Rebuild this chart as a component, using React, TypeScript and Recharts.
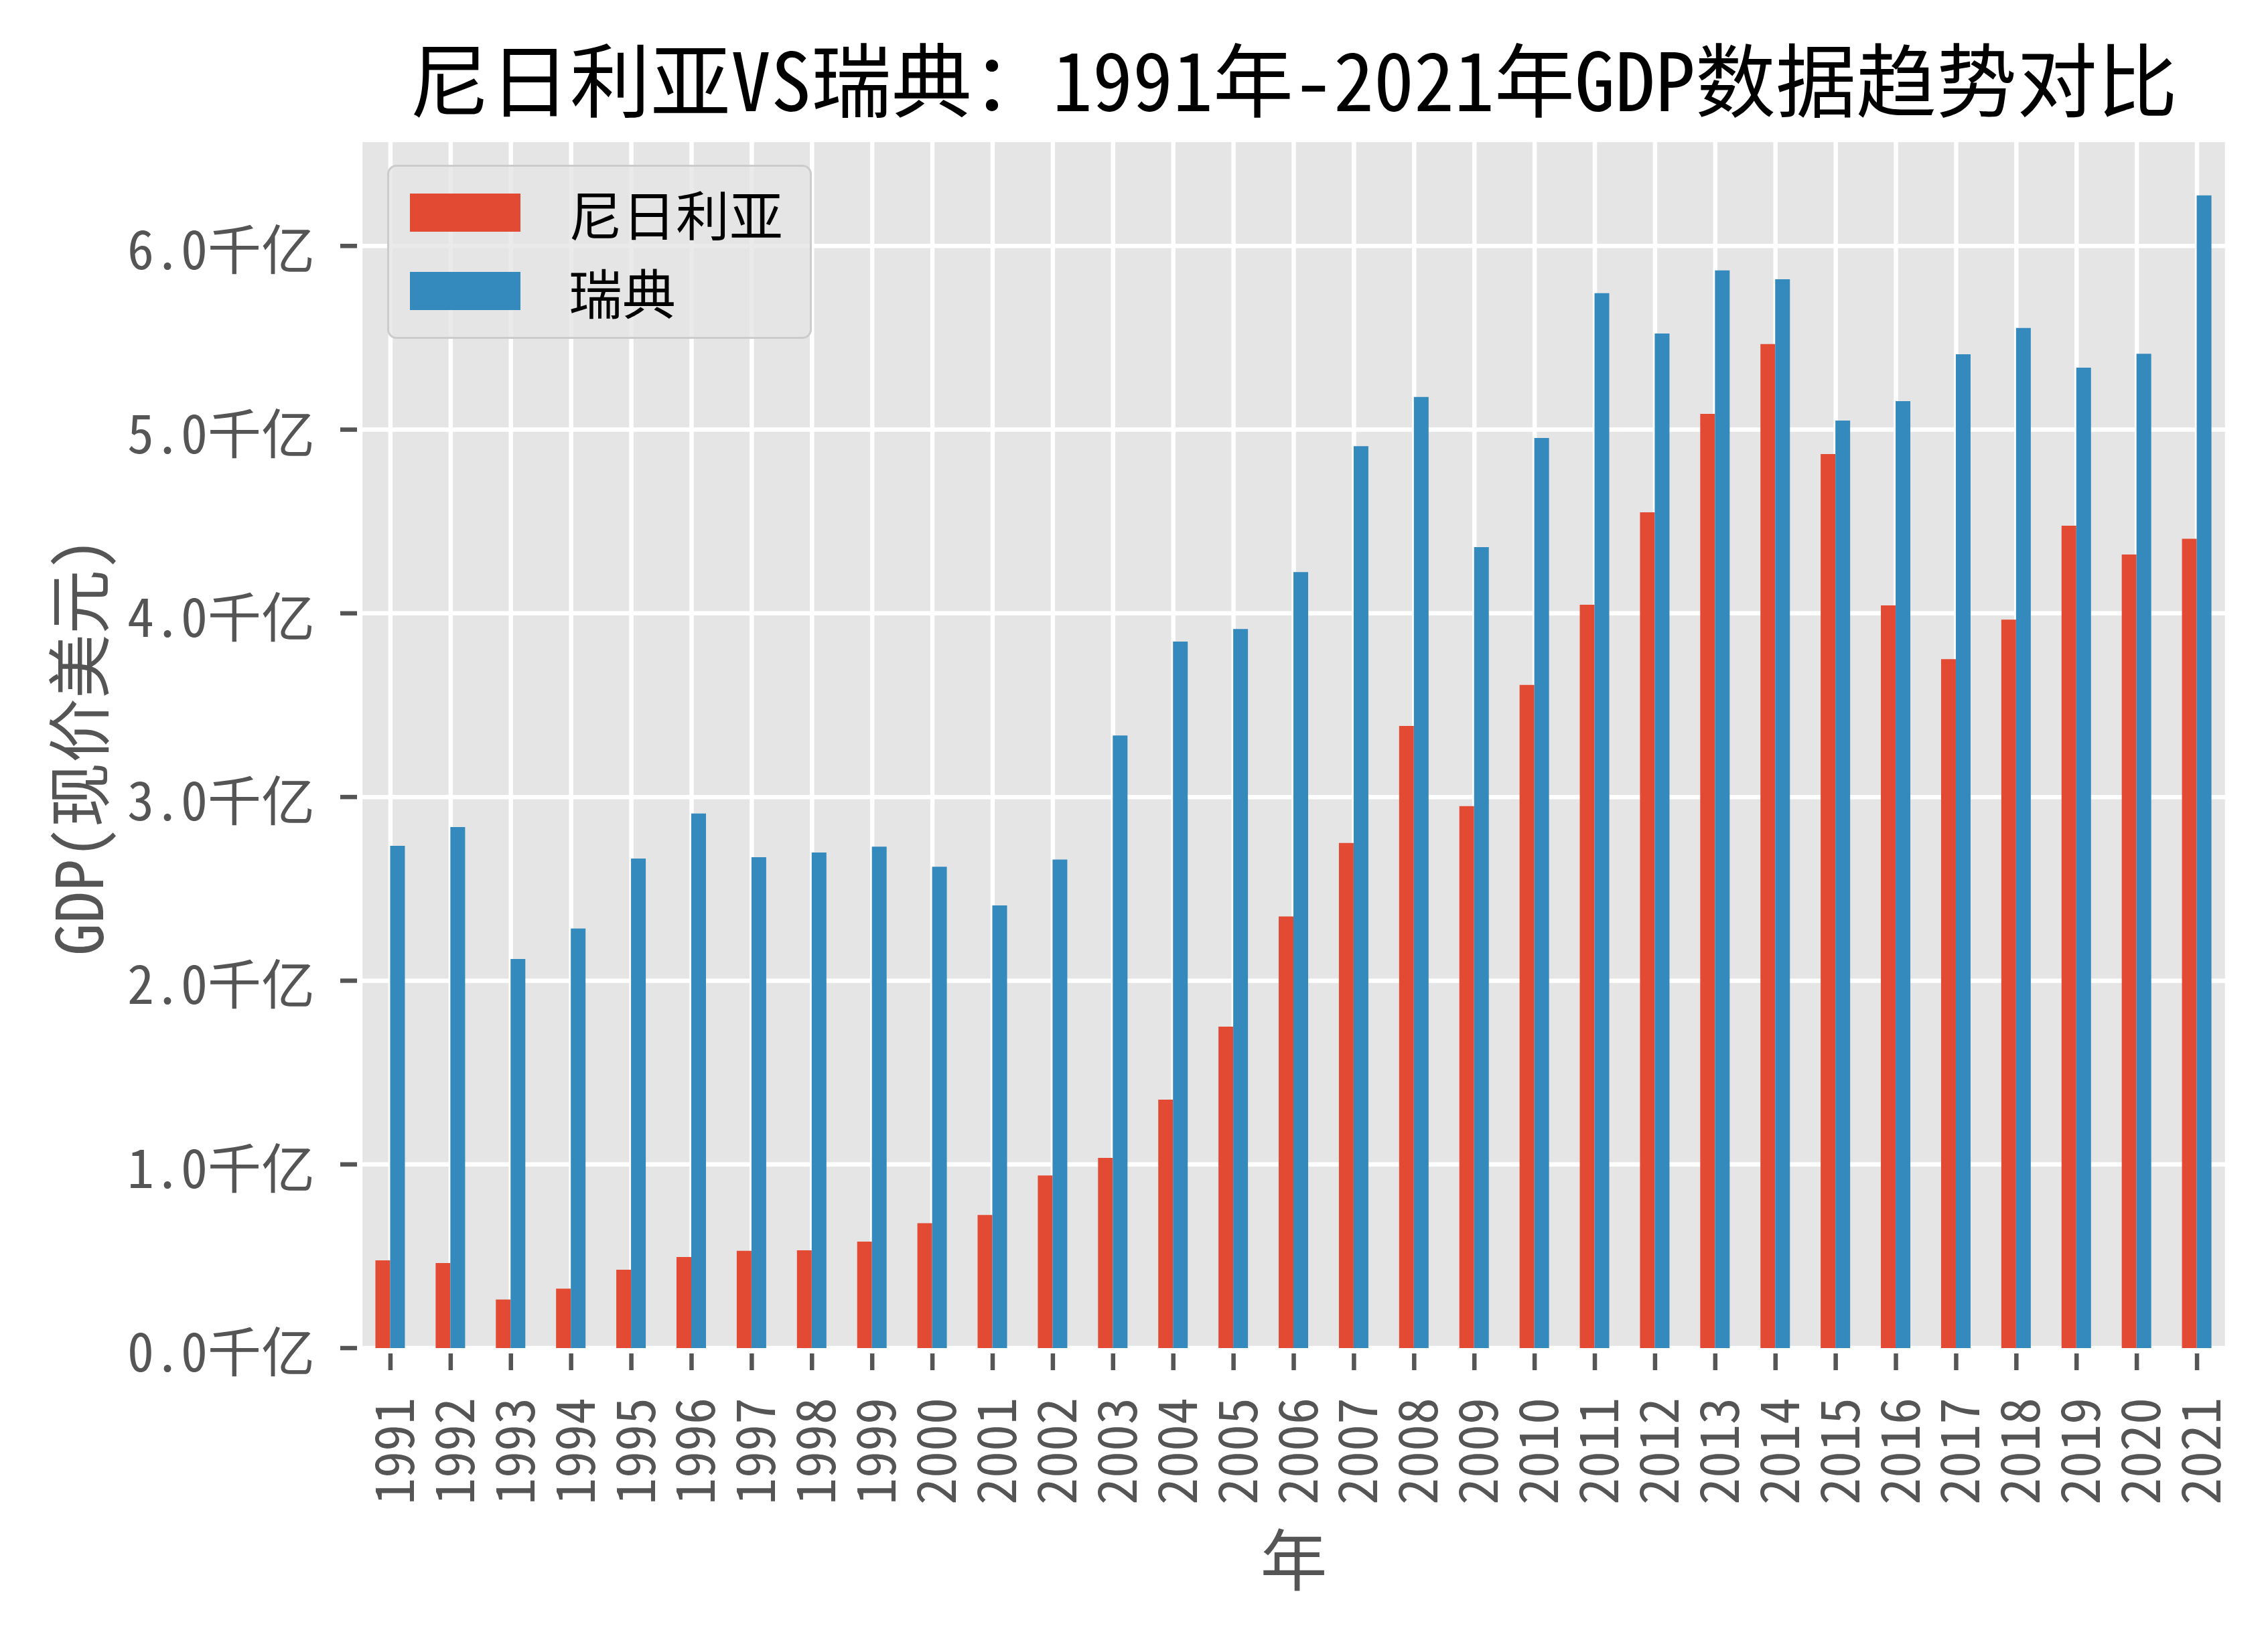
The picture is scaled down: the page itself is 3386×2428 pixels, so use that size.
import React from 'react';
import { BarChart, Bar, XAxis, YAxis, CartesianGrid, Legend, Label } from 'recharts';

const years = ['1991','1992','1993','1994','1995','1996','1997','1998','1999','2000','2001','2002','2003','2004','2005','2006','2007','2008','2009','2010','2011','2012','2013','2014','2015','2016','2017','2018','2019','2020','2021'];
// GDP in 千亿 (hundreds of billions, current USD)
const nigeria = [0.478,0.463,0.264,0.324,0.427,0.496,0.530,0.532,0.580,0.680,0.725,0.940,1.035,1.353,1.750,2.350,2.750,3.387,2.950,3.610,4.047,4.550,5.086,5.466,4.867,4.043,3.751,3.966,4.477,4.320,4.406];
const sweden = [2.734,2.836,2.118,2.284,2.665,2.910,2.672,2.698,2.730,2.620,2.410,2.660,3.335,3.846,3.915,4.225,4.910,5.178,4.360,4.955,5.743,5.523,5.867,5.819,5.049,5.155,5.410,5.553,5.337,5.413,6.275];
const seriesNames = ['尼日利亚', '瑞典'];
const seriesColors = ['#E24A33', '#348ABD'];
const yTicks = [0, 1, 2, 3, 4, 5, 6];
const yMax = 6.577;
const tickSuffix = '千亿';
const titleText = '尼日利亚VS瑞典：1991年-2021年GDP数据趋势对比';
const xLabelText = '年';
const yLabelText = 'GDP(现价美元)';

const data = years.map((y, i) => ({ year: y, nigeria: nigeria[i], sweden: sweden[i] }));

const FONT = '"Noto Sans CJK SC", "Noto Sans", sans-serif';
const TICK_COLOR = '#555555';

const YTick = (props: any) => {
  const { x, y, payload } = props;
  return (
    <g>
      <line x1={x - 30} x2={x - 5} y1={y} y2={y} stroke={TICK_COLOR} strokeWidth={6.5} />
      <text x={x - 68} y={y} textAnchor="end" dominantBaseline="central" fontSize={80} fill={TICK_COLOR} fontFamily={FONT}>
        {Number(payload.value).toFixed(1) + tickSuffix}
      </text>
    </g>
  );
};

const XTick = (props: any) => {
  const { x, y, payload } = props;
  return (
    <g>
      <line x1={x} x2={x} y1={y + 8} y2={y + 33} stroke={TICK_COLOR} strokeWidth={6.5} />
      <text
        transform={`translate(${x},${y + 74}) rotate(-90)`}
        textAnchor="end"
        dominantBaseline="central"
        fontSize={80}
        fill={TICK_COLOR}
        fontFamily={FONT}
      >
        {payload.value}
      </text>
    </g>
  );
};

const YLabel = (props: any) => {
  const vb = props.viewBox || {};
  const cx = vb.x - 26;
  const cy = vb.y + vb.height / 2 + 4;
  return (
    <text transform={`translate(${cx},${cy}) rotate(-90)`} textAnchor="middle" dominantBaseline="central" fontSize={96} fill={TICK_COLOR} fontFamily={FONT}>
      {yLabelText}
    </text>
  );
};

const XLabel = (props: any) => {
  const vb = props.viewBox || {};
  return (
    <text x={vb.x + vb.width / 2} y={vb.y + 310} textAnchor="middle" dominantBaseline="central" fontSize={100} fill={TICK_COLOR} fontFamily={FONT}>
      {xLabelText}
    </text>
  );
};

const LegendBox = (props: any) => {
  const payload = props.payload || [];
  return (
    <div
      style={{
        position: 'relative',
        width: 634,
        height: 260,
        boxSizing: 'border-box',
        border: '3px solid #CCCCCC',
        borderRadius: 14,
        background: 'rgba(229,229,229,0.8)',
        fontFamily: FONT,
      }}
    >
      {payload.map((p: any, i: number) => (
        <div key={i} style={{ position: 'absolute', left: 31, top: 28 + i * 117, height: 80, display: 'flex', alignItems: 'center' }}>
          <div style={{ width: 165, height: 57, background: p.color }} />
          <div style={{ marginLeft: 72, fontSize: 80, lineHeight: '80px', color: '#000' }}>{p.value}</div>
        </div>
      ))}
    </div>
  );
};

export default function App() {
  return (
    <div
      style={{
        position: 'absolute',
        left: 0,
        top: 0,
        width: 3386,
        height: 2428,
        background: '#FFFFFF',
        fontFamily: FONT,
        fontFeatureSettings: '"hwid"',
      }}
    >
      <svg width={3386} height={230} style={{ position: 'absolute', left: 0, top: 0 }}>
        <text x={1931} y={114} textAnchor="middle" dominantBaseline="central" fontSize={120} fill="#000" fontFamily={FONT} style={{ fontFeatureSettings: '"hwid"' }}>
          {titleText}
        </text>
      </svg>
      <div style={{ position: 'absolute', left: 0, top: 0 }}>
        <BarChart
          width={3386}
          height={2428}
          data={data}
          margin={{ top: 209, right: 61, bottom: 115, left: 138 }}
          barCategoryGap="25%"
          barGap={0}
        >
          <CartesianGrid fill="#E5E5E5" stroke="#FFFFFF" strokeWidth={6.5} />
          <XAxis
            dataKey="year"
            type="category"
            interval={0}
            height={300}
            axisLine={false}
            tickLine={false}
            tickSize={0}
            tickMargin={0}
            tick={<XTick />}
          >
            <Label content={<XLabel />} />
          </XAxis>
          <YAxis
            type="number"
            domain={[0, yMax]}
            ticks={yTicks}
            width={400}
            axisLine={false}
            tickLine={false}
            tickSize={0}
            tickMargin={0}
            tick={<YTick />}
            allowDataOverflow
          >
            <Label content={<YLabel />} />
          </YAxis>
          <Legend
            layout="vertical"
            align="center"
            verticalAlign="middle"
            content={<LegendBox />}
            wrapperStyle={{ left: 578, top: 246, width: 634, height: 260 }}
          />
          <Bar dataKey="nigeria" name={seriesNames[0]} fill={seriesColors[0]} isAnimationActive={false} />
          <Bar dataKey="sweden" name={seriesNames[1]} fill={seriesColors[1]} isAnimationActive={false} />
        </BarChart>
      </div>
    </div>
  );
}
